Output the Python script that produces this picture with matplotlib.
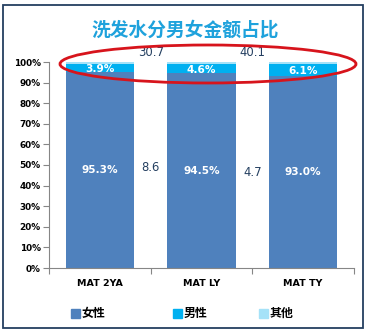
import matplotlib.pyplot as plt
from matplotlib.patches import Rectangle, Ellipse

plt.rcParams['font.family'] = ['DejaVu Sans', 'Noto Sans CJK SC']

categories = ["MAT 2YA", "MAT LY", "MAT TY"]
female = [95.3, 94.5, 93.0]
male = [3.9, 4.6, 6.1]
other = [0.8, 0.9, 0.9]
series_names = ["女性", "男性", "其他"]
colors = ["#4F81BD", "#00B0F0", "#A5E2F8"]

# growth figures shown between the bars
growth_top = ["30.7", "40.1"]
growth_mid = ["8.6", "4.7"]

W, H = 373, 331
fig = plt.figure(figsize=(W / 100, H / 100), dpi=100)

# frame round the whole chart
fig.patches.append(Rectangle((3 / W, 3 / H), 360 / W, 323 / H, transform=fig.transFigure,
                             fill=False, edgecolor="#243F60", linewidth=1.3))

ax = fig.add_axes([49 / W, (H - 268) / H, 305 / W, 206 / H])
x = range(len(categories))
bw = 0.67
ax.bar(x, female, bw, color=colors[0])
ax.bar(x, male, bw, bottom=female, color=colors[1])
ax.bar(x, other, bw, bottom=[f + m for f, m in zip(female, male)], color=colors[2])

for i in x:
    ax.text(i, female[i] / 2, f"{female[i]:.1f}%", ha="center", va="center",
            color="white", fontsize=7.6, fontweight="bold")
    ax.text(i, female[i] + male[i] / 2 - 0.6, f"{male[i]:.1f}%", ha="center", va="center",
            color="white", fontsize=7.6, fontweight="bold")

for j in range(2):
    ax.text(j + 0.5, 104.6, growth_top[j], ha="center", va="center",
            color="#243F60", fontsize=8.4)
    ax.text(j + 0.5, 49 - 2.5 * j, growth_mid[j], ha="center", va="center",
            color="#243F60", fontsize=8.4)

ax.set_xlim(-0.5, 2.5)
ax.set_ylim(0, 100)
ax.set_yticks(range(0, 101, 10))
ax.set_yticklabels([f"{v}%" for v in range(0, 101, 10)], fontsize=6.4, fontweight="bold")
ax.set_xticks([-0.5, 0.5, 1.5, 2.5])
ax.set_xticklabels([])
ax.set_xticks(list(x), minor=True)
ax.set_xticklabels(categories, minor=True, fontsize=6.8, fontweight="bold")
ax.tick_params(axis="x", which="minor", length=0, pad=8)
ax.tick_params(axis="x", which="major", length=4, color="#868686")
ax.tick_params(axis="y", length=4, color="#868686", pad=2)
for s in ["top", "right"]:
    ax.spines[s].set_visible(False)
for s in ["left", "bottom"]:
    ax.spines[s].set_color("#868686")
ax.patch.set_visible(False)

fig.text(185 / W, 1 - 30 / H, "洗发水分男女金额占比", ha="center", va="center",
         color="#1FA2DC", fontsize=13.5, fontweight="bold", family="Noto Sans CJK SC")

# red ring around the top of the bars
fig.patches.append(Ellipse((208 / W, 1 - 64 / H), 296 / W, 38 / H, transform=fig.transFigure,
                           fill=False, edgecolor="#D7141C", linewidth=2))

legend_x = [71, 173, 259]
for lx, name, c in zip(legend_x, series_names, colors):
    fig.patches.append(Rectangle((lx / W, 1 - 317.5 / H), 9 / W, 9 / H,
                                 transform=fig.transFigure, color=c))
    fig.text((lx + 10.5) / W, 1 - 313 / H, name, ha="left", va="center",
             fontsize=8.6, fontweight="bold", family="Noto Sans CJK SC")

fig.savefig("out.png", dpi=100)
